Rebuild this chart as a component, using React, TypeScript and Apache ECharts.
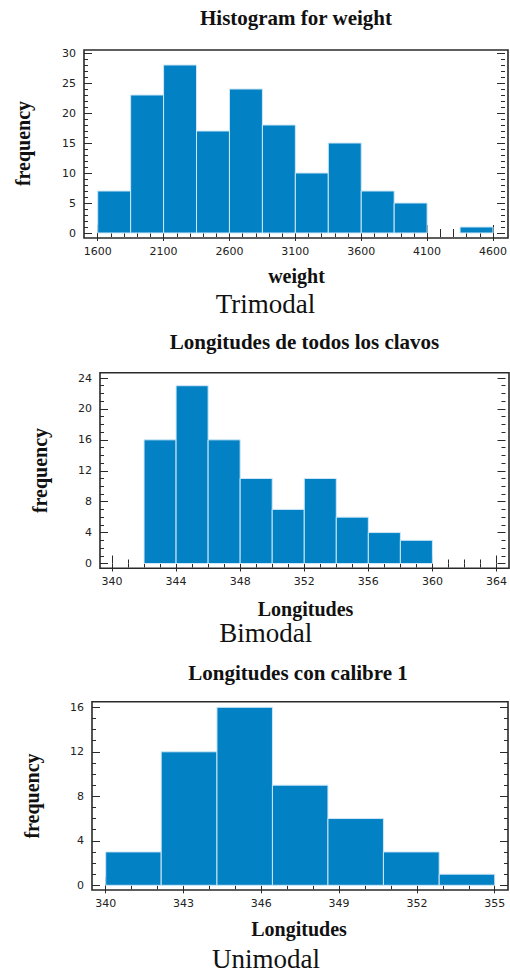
import { useEffect, useRef } from 'react';
import * as echarts from 'echarts';

// ---- data ----
const weightEdges = [1600, 1850, 2100, 2350, 2600, 2850, 3100, 3350, 3600, 3850, 4100, 4350, 4600];
const weightCounts = [7, 23, 28, 17, 24, 18, 10, 15, 7, 5, 0, 1];

const allEdges = [342, 344, 346, 348, 350, 352, 354, 356, 358, 360];
const allCounts = [16, 23, 16, 11, 7, 11, 6, 4, 3];

const cal1Edges = [340, 342.14, 344.29, 346.43, 348.57, 350.71, 352.86, 355];
const cal1Counts = [3, 12, 16, 9, 6, 3, 1];

const titles = ['Histogram for weight', 'Longitudes de todos los clavos', 'Longitudes con calibre 1'];
const xNames = ['weight', 'Longitudes', 'Longitudes'];
const yName = 'frequency';
const modality = ['Trimodal', 'Bimodal', 'Unimodal'];

// x axis: [min, max, interval, minor splits]; y axis likewise
const xScales = [
  [1600, 4600, 500, 5],
  [340, 364, 4, 4],
  [340, 355, 3, 3],
];
const yScales = [
  [0, 30, 5, 5],
  [0, 24, 4, 4],
  [0, 16, 4, 4],
];
const histEdges = [weightEdges, allEdges, cal1Edges];
const histCounts = [weightCounts, allCounts, cal1Counts];

// ---- layout (pixels) ----
const layout = [
  { frame: [84, 50, 508, 238], inner: [97.7, 53, 496, 233], title: [296, 18], xname: [296.5, 276], yname: [23, 143.5], mod: [265.5, 304] },
  { frame: [100, 372.7, 509, 568.3], inner: [112, 378, 500, 563.5], title: [304.5, 342], xname: [305.5, 609], yname: [40, 470.5], mod: [265.7, 633] },
  { frame: [92, 701.7, 508, 890], inner: [105.7, 707.3, 494.7, 885.3], title: [298, 673], xname: [299, 929], yname: [31.5, 796], mod: [266, 959] },
];

const BAR = '#0281c5';
const BAR_EDGE = '#cfe7f6';
const INK = '#2a2a2a';
const SERIF = '"Liberation Serif", "Times New Roman", serif';
const SANS = '"DejaVu Sans", Verdana, sans-serif';

function buildOption() {
  const grid: any[] = [];
  const xAxis: any[] = [];
  const yAxis: any[] = [];
  const series: any[] = [];
  const graphic: any[] = [];

  layout.forEach((L, i) => {
    const [il, it, ir, ib] = L.inner;
    const [fl, ft, fr, fb] = L.frame;
    grid.push({ left: il, top: it, width: ir - il, height: ib - it, containLabel: false });

    const tick = { show: true, inside: true, length: 8, lineStyle: { color: INK, width: 1 } };
    const minor = (n: number) => ({ show: true, splitNumber: n, length: 4, lineStyle: { color: INK, width: 1 } });
    const [xmin, xmax, xint, xmin2] = xScales[i];
    const [ymin, ymax, yint, ymin2] = yScales[i];
    const label = {
      show: true, fontFamily: SANS, fontSize: 11, color: '#222',
      showMinLabel: true, showMaxLabel: true,
      formatter: (v: number) => String(v),
    };

    xAxis.push({
      type: 'value', gridIndex: i, position: 'bottom', offset: fb - ib,
      min: xmin, max: xmax, interval: xint,
      axisLine: { show: false }, splitLine: { show: false },
      axisTick: tick, minorTick: minor(xmin2),
      axisLabel: { ...label, margin: 8 },
    });
    xAxis.push({
      type: 'value', gridIndex: i, position: 'top', offset: it - ft,
      min: xmin, max: xmax, interval: xint,
      axisLine: { show: false }, splitLine: { show: false },
      axisTick: tick, minorTick: minor(xmin2),
      axisLabel: { show: false },
    });
    yAxis.push({
      type: 'value', gridIndex: i, position: 'left', offset: il - fl,
      min: ymin, max: ymax, interval: yint,
      axisLine: { show: false }, splitLine: { show: false },
      axisTick: tick, minorTick: minor(ymin2),
      axisLabel: { ...label, margin: 8 },
    });
    yAxis.push({
      type: 'value', gridIndex: i, position: 'right', offset: fr - ir,
      min: ymin, max: ymax, interval: yint,
      axisLine: { show: false }, splitLine: { show: false },
      axisTick: tick, minorTick: minor(ymin2),
      axisLabel: { show: false },
    });

    const edges = histEdges[i];
    const counts = histCounts[i];
    series.push({
      type: 'custom',
      xAxisIndex: 2 * i,
      yAxisIndex: 2 * i,
      encode: { x: [0, 1], y: 2 },
      data: counts.map((c, k) => [edges[k], edges[k + 1], c]),
      renderItem: (_p: any, api: any) => {
        const c = api.value(2);
        if (!c) return null;
        const a = api.coord([api.value(0), c]);
        const b = api.coord([api.value(1), 0]);
        return {
          type: 'rect',
          shape: { x: a[0], y: a[1], width: b[0] - a[0], height: b[1] - a[1] },
          style: { fill: BAR, stroke: BAR_EDGE, lineWidth: 1 },
        };
      },
    });

    graphic.push({
      type: 'rect', silent: true, z: 10,
      shape: { x: fl, y: ft, width: fr - fl, height: fb - ft },
      style: { fill: 'none', stroke: INK, lineWidth: 1.6 },
    });
    graphic.push({
      type: 'text', x: L.title[0], y: L.title[1],
      style: { text: titles[i], font: `bold 21px ${SERIF}`, fill: '#111', textAlign: 'center', textVerticalAlign: 'middle' },
    });
    graphic.push({
      type: 'text', x: L.xname[0], y: L.xname[1],
      style: { text: xNames[i], font: `bold 20px ${SERIF}`, fill: '#111', textAlign: 'center', textVerticalAlign: 'middle' },
    });
    graphic.push({
      type: 'text', x: L.yname[0], y: L.yname[1], rotation: Math.PI / 2,
      style: { text: yName, font: `bold 20px ${SERIF}`, fill: '#111', textAlign: 'center', textVerticalAlign: 'middle' },
    });
    graphic.push({
      type: 'text', x: L.mod[0], y: L.mod[1],
      style: { text: modality[i], font: `27px ${SERIF}`, fill: '#111', textAlign: 'center', textVerticalAlign: 'middle' },
    });
  });

  return { animation: false, backgroundColor: '#ffffff', grid, xAxis, yAxis, series, graphic };
}

export default function App() {
  const ref = useRef<HTMLDivElement>(null);
  useEffect(() => {
    if (!ref.current) return;
    const chart = echarts.init(ref.current, undefined, { renderer: 'svg' });
    chart.setOption(buildOption() as any);
    return () => chart.dispose();
  }, []);
  return <div ref={ref} style={{ position: 'fixed', left: 0, top: 0, width: 510, height: 974, background: '#fff' }} />;
}
